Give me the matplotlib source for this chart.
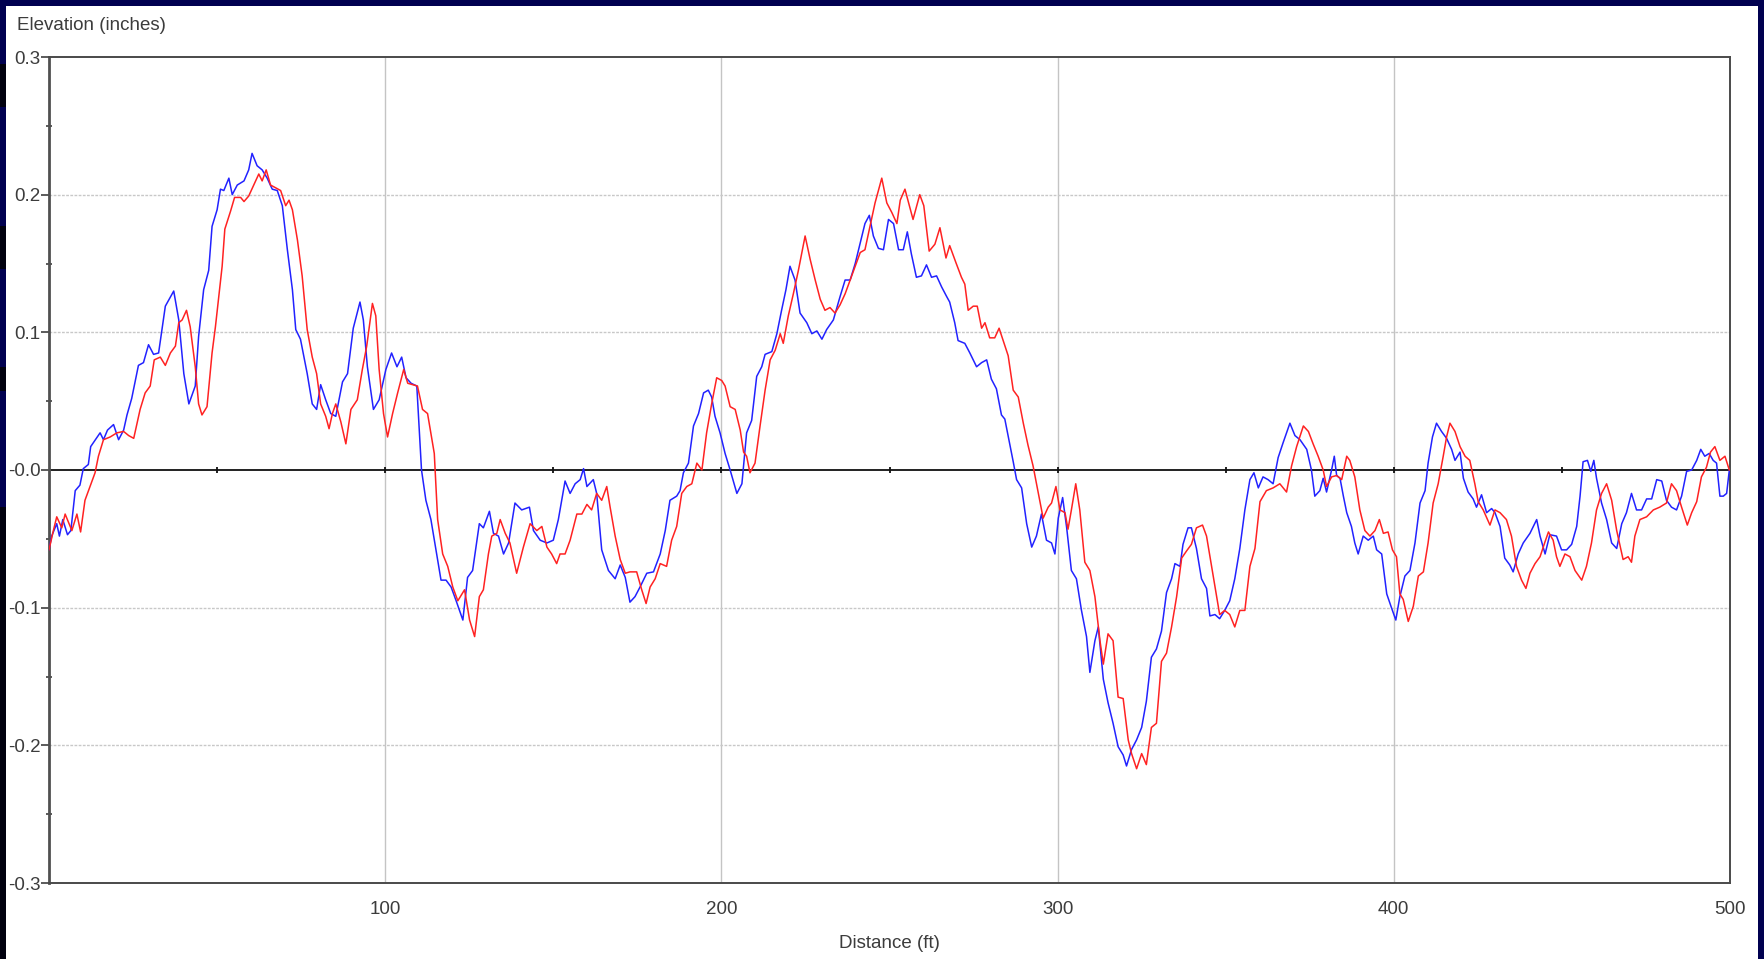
import numpy as np
import matplotlib
matplotlib.use("Agg")
import matplotlib.pyplot as plt
from matplotlib.patches import Rectangle

# Elevation profile, left (blue) and right (red) wheel path
blue_ft = [
    0, 0.8, 2.3, 3.1, 4.1, 5.5, 6.5, 7.8, 9.2, 10.2, 11.7, 12.4, 15.2, 16.2, 17.4, 19.2,
    20.7, 22.2, 23.2, 24.6, 26.6, 28.1, 29.6, 31.1, 32.6, 34.6, 37.1, 38.6, 40.1, 41.6,
    43.5, 44.5, 46.0, 47.5, 48.5, 50.0, 51.0, 52.0, 53.5, 54.5, 56.0, 58.0, 59.4, 60.4,
    61.9, 63.4, 64.9, 66.4, 67.9, 69.4, 70.9, 72.4, 73.4, 74.8, 76.8, 78.3, 79.6, 80.8,
    82.3, 83.8, 85.3, 87.3, 88.8, 90.5, 92.5, 93.5, 94.7, 96.5, 98.2, 100.2, 101.9, 103.5,
    104.9, 106.2, 107.7, 109.4, 110.8, 112.1, 113.6, 115.1, 116.6, 118.1, 119.6, 121.1,
    123.1, 124.5, 126.0, 128.0, 129.2, 131.0, 132.2, 133.7, 135.2, 136.7, 138.6, 140.6,
    142.9, 144.1, 146.1, 148.1, 150.0, 151.5, 153.5, 155.0, 156.5, 158.0, 159.0, 160.0,
    161.9, 162.9, 164.4, 166.4, 168.4, 169.9, 171.4, 172.8, 174.3, 175.8, 177.8, 179.8,
    181.8, 183.3, 184.7, 186.7, 187.7, 188.7, 190.2, 191.7, 193.2, 194.7, 196.1, 197.1,
    198.1, 199.6, 201.1, 202.6, 204.6, 206.1, 207.5, 209.0, 210.5, 212.0, 213.0, 215.0,
    216.5, 217.9, 219.2, 220.4, 221.9, 223.4, 225.4, 226.9, 228.4, 229.9, 231.3, 233.3,
    235.3, 236.8, 238.3, 239.8, 241.3, 242.7, 244.0, 245.2, 246.7, 248.2, 249.7, 251.2,
    252.7, 254.1, 255.3, 256.5, 258.0, 259.5, 261.0, 262.5, 264.0, 265.5, 267.0, 267.9,
    269.4, 270.4, 272.4, 273.9, 275.9, 277.4, 278.9, 280.3, 281.8, 283.3, 284.3, 285.6,
    286.8, 287.8, 289.3, 290.8, 292.3, 293.7, 295.2, 296.7, 298.2, 299.2, 300.2, 301.5,
    302.7, 304.1, 305.6, 307.1, 308.6, 309.6, 311.1, 312.1, 313.6, 315.0, 316.5, 318.0,
    319.5, 320.5, 322.0, 323.5, 325.0, 326.4, 327.9, 329.4, 330.9, 332.4, 333.9, 334.9,
    336.4, 337.3, 338.8, 339.8, 341.3, 342.8, 344.3, 345.3, 346.8, 348.2, 349.7, 351.2,
    352.7, 354.2, 355.7, 357.2, 358.4, 359.7, 361.1, 362.6, 364.1, 365.6, 367.1, 369.1,
    370.6, 372.1, 374.1, 375.5, 376.5, 378.0, 379.0, 380.0, 381.5, 382.3, 383.0, 384.0,
    385.0, 386.0, 387.4, 388.4, 389.4, 390.9, 392.4, 393.9, 394.9, 396.4, 397.9, 399.3,
    400.6, 401.8, 403.3, 404.8, 406.3, 407.8, 409.3, 410.2, 411.5, 412.7, 414.2, 415.7,
    417.2, 418.2, 419.7, 420.7, 422.1, 423.6, 424.6, 426.1, 427.6, 429.1, 430.1, 431.6,
    433.0, 434.5, 435.5, 437.0, 438.5, 440.5, 442.5, 443.5, 445.0, 446.4, 448.4, 449.9,
    451.4, 452.9, 454.4, 455.4, 456.3, 457.6, 458.6, 459.5, 460.3, 461.8, 463.3, 464.8,
    466.3, 467.8, 469.2, 470.7, 472.2, 473.7, 475.2, 476.7, 478.2, 479.7, 481.1, 482.6,
    484.1, 485.6, 487.1, 488.6, 490.1, 491.3, 492.5, 493.8, 495.0, 496.0, 497.0, 498.0,
    499.0, 499.8,
]
blue_in = [
    -0.058, -0.048, -0.039, -0.048, -0.036, -0.047, -0.044, -0.015, -0.011, 0.001, 0.004,
    0.017, 0.027, 0.022, 0.029, 0.033, 0.022, 0.029, 0.040, 0.052, 0.076, 0.078, 0.091,
    0.084, 0.085, 0.119, 0.130, 0.109, 0.070, 0.048, 0.061, 0.097, 0.131, 0.145, 0.177,
    0.189, 0.204, 0.203, 0.212, 0.200, 0.207, 0.210, 0.218, 0.230, 0.221, 0.218, 0.212,
    0.204, 0.203, 0.192, 0.160, 0.131, 0.102, 0.095, 0.070, 0.048, 0.044, 0.062, 0.051,
    0.041, 0.039, 0.064, 0.070, 0.103, 0.122, 0.109, 0.075, 0.044, 0.051, 0.073, 0.085,
    0.075, 0.082, 0.067, 0.063, 0.061, 0.000, -0.022, -0.036, -0.058, -0.080, -0.080,
    -0.085, -0.095, -0.109, -0.078, -0.073, -0.039, -0.042, -0.030, -0.046, -0.048,
    -0.061, -0.053, -0.024, -0.029, -0.027, -0.044, -0.051, -0.053, -0.051, -0.036,
    -0.008, -0.017, -0.010, -0.007, 0.001, -0.012, -0.007, -0.017, -0.058, -0.073,
    -0.079, -0.069, -0.078, -0.096, -0.092, -0.085, -0.075, -0.074, -0.061, -0.044,
    -0.022, -0.019, -0.015, -0.002, 0.005, 0.032, 0.041, 0.056, 0.058, 0.053, 0.039,
    0.027, 0.012, 0.000, -0.017, -0.010, 0.027, 0.036, 0.068, 0.075, 0.084, 0.086, 0.099,
    0.116, 0.131, 0.148, 0.138, 0.114, 0.107, 0.099, 0.101, 0.095, 0.102, 0.109, 0.126,
    0.138, 0.138, 0.150, 0.165, 0.179, 0.185, 0.170, 0.161, 0.160, 0.182, 0.179, 0.160,
    0.160, 0.173, 0.157, 0.140, 0.141, 0.149, 0.140, 0.141, 0.133, 0.126, 0.122, 0.107,
    0.094, 0.092, 0.085, 0.075, 0.078, 0.080, 0.066, 0.059, 0.040, 0.037, 0.021, 0.006,
    -0.007, -0.013, -0.039, -0.056, -0.048, -0.032, -0.051, -0.053, -0.061, -0.035,
    -0.020, -0.042, -0.073, -0.079, -0.102, -0.121, -0.147, -0.124, -0.114, -0.152,
    -0.169, -0.184, -0.201, -0.207, -0.215, -0.203, -0.196, -0.187, -0.168, -0.136,
    -0.130, -0.117, -0.089, -0.079, -0.068, -0.070, -0.054, -0.042, -0.042, -0.057,
    -0.079, -0.086, -0.106, -0.105, -0.108, -0.102, -0.095, -0.079, -0.057, -0.029,
    -0.007, -0.002, -0.013, -0.005, -0.007, -0.010, 0.009, 0.020, 0.034, 0.025, 0.022,
    0.015, 0.000, -0.019, -0.015, -0.006, -0.016, 0.000, 0.010, -0.004, -0.006, -0.019,
    -0.031, -0.041, -0.053, -0.061, -0.048, -0.051, -0.048, -0.058, -0.061, -0.090,
    -0.100, -0.109, -0.092, -0.077, -0.073, -0.053, -0.024, -0.015, 0.005, 0.024, 0.034,
    0.028, 0.023, 0.015, 0.007, 0.013, -0.006, -0.016, -0.021, -0.027, -0.018, -0.031,
    -0.028, -0.031, -0.041, -0.064, -0.069, -0.074, -0.061, -0.053, -0.046, -0.036,
    -0.048, -0.061, -0.047, -0.048, -0.058, -0.058, -0.054, -0.041, -0.019, 0.006, 0.007,
    -0.001, 0.007, -0.006, -0.024, -0.036, -0.053, -0.057, -0.039, -0.031, -0.017,
    -0.029, -0.029, -0.021, -0.021, -0.007, -0.008, -0.022, -0.027, -0.029, -0.019,
    -0.001, 0.000, 0.007, 0.015, 0.010, 0.012, 0.007, 0.005, -0.019, -0.019, -0.017,
    0.000,
]

red_ft = [
    0, 1.3, 2.3, 3.8, 4.8, 6.8, 8.3, 9.4, 10.7, 12.2, 13.7, 14.7, 16.2, 18.2, 20.2, 22.2,
    23.7, 25.2, 27.1, 28.6, 30.1, 31.3, 33.1, 34.6, 36.1, 37.6, 38.6, 39.6, 40.9, 42.0,
    43.5, 44.5, 45.5, 47.0, 48.5, 49.5, 50.5, 51.5, 52.3, 54.0, 55.2, 57.0, 58.0, 59.4,
    60.9, 62.4, 63.4, 64.6, 65.9, 67.4, 68.9, 70.4, 71.4, 72.4, 73.9, 75.3, 76.8, 78.3,
    79.6, 80.8, 82.3, 83.3, 84.3, 85.3, 86.8, 88.3, 89.8, 91.7, 93.2, 94.5, 96.2, 97.2,
    98.2, 99.5, 100.7, 102.2, 103.7, 105.5, 106.7, 108.2, 109.6, 111.1, 112.6, 114.6,
    115.6, 117.1, 118.6, 120.1, 121.6, 123.6, 125.1, 126.6, 128.0, 129.2, 130.7, 131.7,
    133.2, 134.2, 135.7, 137.1, 139.1, 141.1, 143.1, 145.1, 146.6, 148.1, 149.5, 151.0,
    152.0, 153.5, 155.0, 157.0, 158.5, 160.0, 161.4, 162.9, 164.4, 165.9, 166.9, 168.4,
    169.9, 171.4, 172.8, 174.8, 176.3, 177.6, 178.8, 180.3, 181.8, 183.7, 185.2, 186.7,
    188.2, 189.7, 191.2, 192.7, 194.2, 195.6, 197.1, 198.6, 200.1, 201.1, 202.6, 204.1,
    205.6, 206.6, 207.5, 208.5, 210.0, 211.5, 213.0, 214.5, 216.0, 217.5, 218.4, 219.9,
    221.4, 222.9, 224.9, 226.4, 227.9, 229.4, 230.8, 232.3, 233.8, 235.3, 236.8, 238.3,
    239.8, 241.3, 242.7, 244.2, 245.7, 247.7, 249.2, 250.7, 252.2, 253.2, 254.6, 255.8,
    257.0, 259.0, 260.2, 261.8, 263.5, 265.0, 266.8, 267.9, 269.7, 271.4, 272.4, 273.4,
    274.9, 276.1, 277.4, 278.4, 279.8, 281.3, 282.6, 283.8, 285.3, 286.8, 288.3, 289.8,
    291.2, 292.7, 294.2, 295.7, 297.2, 298.2, 299.5, 300.7, 302.2, 303.1, 304.1, 305.4,
    306.6, 308.1, 309.6, 311.1, 312.6, 313.6, 315.0, 316.5, 318.0, 319.5, 321.0, 322.0,
    323.5, 325.0, 326.4, 327.9, 329.4, 330.9, 332.4, 333.9, 335.4, 336.9, 338.3, 339.8,
    341.3, 343.1, 344.3, 345.8, 347.3, 348.2, 349.7, 351.2, 352.7, 354.2, 355.7, 357.2,
    358.7, 360.2, 362.1, 364.1, 366.1, 368.1, 369.6, 371.1, 373.1, 374.6, 376.0, 377.5,
    379.0, 380.0, 381.5, 383.0, 384.5, 386.0, 386.9, 388.4, 389.9, 391.4, 392.9, 394.4,
    395.7, 396.9, 398.3, 399.6, 400.8, 401.8, 402.8, 404.3, 405.8, 407.3, 408.8, 410.2,
    411.7, 413.2, 414.7, 415.7, 416.7, 418.2, 419.7, 421.2, 422.6, 424.1, 425.1, 426.6,
    428.6, 430.1, 431.6, 433.5, 435.0, 436.5, 438.0, 439.3, 440.5, 442.0, 443.5, 445.0,
    446.0, 447.4, 448.4, 449.4, 450.9, 452.4, 453.9, 455.9, 457.3, 458.8, 460.3, 461.8,
    463.3, 464.8, 466.3, 468.2, 469.7, 470.7, 471.7, 473.2, 475.2, 477.2, 479.1, 481.1,
    482.6, 484.1, 485.6, 487.3, 488.6, 490.1, 491.5, 493.0, 494.2, 495.5, 497.0, 498.5,
    499.8,
]
red_in = [
    -0.058, -0.044, -0.034, -0.042, -0.032, -0.044, -0.032, -0.045, -0.022, -0.012,
    -0.002, 0.010, 0.022, 0.024, 0.027, 0.028, 0.025, 0.023, 0.044, 0.056, 0.061, 0.080,
    0.082, 0.076, 0.085, 0.090, 0.107, 0.109, 0.116, 0.104, 0.075, 0.048, 0.040, 0.046,
    0.085, 0.104, 0.126, 0.148, 0.175, 0.188, 0.198, 0.198, 0.195, 0.199, 0.207, 0.215,
    0.210, 0.218, 0.207, 0.205, 0.203, 0.192, 0.196, 0.189, 0.167, 0.141, 0.102, 0.082,
    0.070, 0.048, 0.039, 0.030, 0.041, 0.048, 0.035, 0.019, 0.044, 0.051, 0.073, 0.090,
    0.121, 0.112, 0.073, 0.041, 0.024, 0.041, 0.056, 0.073, 0.063, 0.062, 0.061, 0.044,
    0.041, 0.012, -0.036, -0.061, -0.070, -0.085, -0.095, -0.087, -0.109, -0.121, -0.092,
    -0.087, -0.061, -0.048, -0.046, -0.036, -0.046, -0.053, -0.075, -0.056, -0.039,
    -0.044, -0.041, -0.056, -0.061, -0.068, -0.061, -0.061, -0.051, -0.032, -0.032,
    -0.025, -0.029, -0.017, -0.022, -0.012, -0.027, -0.048, -0.065, -0.075, -0.074,
    -0.074, -0.087, -0.097, -0.085, -0.079, -0.068, -0.070, -0.051, -0.041, -0.017,
    -0.012, -0.010, 0.005, 0.000, 0.027, 0.048, 0.067, 0.065, 0.061, 0.046, 0.044, 0.029,
    0.013, 0.010, -0.002, 0.005, 0.032, 0.058, 0.080, 0.087, 0.099, 0.092, 0.112, 0.128,
    0.145, 0.170, 0.153, 0.138, 0.124, 0.116, 0.118, 0.114, 0.120, 0.128, 0.138, 0.148,
    0.158, 0.160, 0.177, 0.194, 0.212, 0.194, 0.187, 0.179, 0.196, 0.204, 0.193, 0.182,
    0.200, 0.192, 0.159, 0.164, 0.176, 0.154, 0.163, 0.151, 0.140, 0.135, 0.116, 0.119,
    0.119, 0.103, 0.107, 0.096, 0.096, 0.103, 0.094, 0.083, 0.058, 0.053, 0.034, 0.018,
    0.003, -0.016, -0.035, -0.027, -0.024, -0.012, -0.029, -0.031, -0.043, -0.029,
    -0.010, -0.029, -0.067, -0.073, -0.092, -0.124, -0.141, -0.119, -0.124, -0.165,
    -0.166, -0.196, -0.206, -0.217, -0.206, -0.214, -0.187, -0.184, -0.139, -0.133,
    -0.114, -0.092, -0.064, -0.059, -0.054, -0.042, -0.040, -0.048, -0.070, -0.092,
    -0.105, -0.102, -0.105, -0.114, -0.102, -0.102, -0.070, -0.057, -0.023, -0.015,
    -0.013, -0.010, -0.016, 0.003, 0.017, 0.032, 0.028, 0.019, 0.010, 0.000, -0.012,
    -0.005, -0.004, -0.007, 0.010, 0.007, -0.005, -0.029, -0.044, -0.048, -0.044, -0.036,
    -0.046, -0.045, -0.058, -0.063, -0.090, -0.094, -0.110, -0.099, -0.077, -0.074,
    -0.053, -0.024, -0.010, 0.010, 0.024, 0.034, 0.028, 0.017, 0.010, 0.007, -0.010,
    -0.023, -0.029, -0.040, -0.029, -0.031, -0.036, -0.048, -0.070, -0.080, -0.086,
    -0.075, -0.068, -0.063, -0.052, -0.045, -0.051, -0.063, -0.070, -0.061, -0.063,
    -0.073, -0.080, -0.070, -0.053, -0.029, -0.017, -0.010, -0.022, -0.044, -0.065,
    -0.063, -0.067, -0.048, -0.036, -0.034, -0.029, -0.027, -0.024, -0.010, -0.015,
    -0.027, -0.040, -0.031, -0.023, -0.005, 0.002, 0.013, 0.017, 0.007, 0.010, 0.000,
]

y_ticks = [-0.3, -0.2, -0.1, 0.0, 0.1, 0.2, 0.3]
y_tick_labels = ["-0.3", "-0.2", "-0.1", "-0.0", "0.1", "0.2", "0.3"]
x_ticks = [100, 200, 300, 400, 500]

W, H = 1764, 959
plt.rcParams["font.family"] = ["Liberation Sans", "DejaVu Sans"]
text_color = "#3c3c3c"

fig = plt.figure(figsize=(W / 100, H / 100), dpi=100)
fig.patch.set_facecolor("#000050")

# white window panel inside the navy frame
fig.patches.append(Rectangle((6 / W, 0), (1758 - 6) / W, (H - 6) / H,
                             transform=fig.transFigure, facecolor="white",
                             edgecolor="none", zorder=-10))
# darker bands on the left frame edge
for top, bot in [(64, 107), (226, 269), (367, 391), (507, 959)]:
    fig.patches.append(Rectangle((0, 1 - bot / H), 6 / W, (bot - top) / H,
                                 transform=fig.transFigure, facecolor="#00000e",
                                 edgecolor="none", zorder=-10))

ax = fig.add_axes([49 / W, 1 - 883 / H, (1730 - 49) / W, (883 - 57) / H])
ax.set_facecolor("white")
ax.set_xlim(0, 500)
ax.set_ylim(-0.3, 0.3)

# grid
for gx in [100, 200, 300, 400]:
    ax.axvline(gx, color="#c4c4c4", lw=1.0, zorder=1)
for gy in [-0.2, -0.1, 0.1, 0.2]:
    ax.axhline(gy, color="#c8c8c8", lw=1.0, ls=(0, (2, 1)), zorder=1)
ax.axhline(0, color="#101010", lw=1.3, zorder=2)
ax.plot(np.arange(50, 500, 50), np.zeros(9), ls="none", marker="|",
        ms=5, mew=1.3, color="#101010", zorder=2)

ax.plot(blue_ft, blue_in, color="#2222ff", lw=1.1, zorder=3)
ax.plot(red_ft, red_in, color="#ff2222", lw=1.1, zorder=4)

for side in ["top", "right", "bottom"]:
    ax.spines[side].set_color("#4a4a4a")
    ax.spines[side].set_linewidth(1.4)
ax.spines["left"].set_color("#505050")
ax.spines["left"].set_linewidth(2.0)

ax.set_yticks(y_ticks)
ax.set_yticklabels(y_tick_labels)
ax.set_yticks(np.arange(-0.25, 0.3, 0.1), minor=True)
ax.tick_params(axis="y", which="major", direction="out", length=5.5, width=1.2,
               color="#404040", pad=0.5, labelsize=13.5, labelcolor=text_color)
ax.tick_params(axis="y", which="minor", direction="inout", length=5, width=1.2,
               color="#404040")
ax.set_xticks(x_ticks)
ax.set_xticklabels([str(v) for v in x_ticks])
ax.tick_params(axis="x", length=0, pad=13, labelsize=13.5, labelcolor=text_color)

fig.text(17 / W, 1 - 25 / H, "Elevation (inches)", ha="left", va="center",
         fontsize=13.5, color=text_color)
fig.text((49 + 1730) / 2 / W, 1 - 943 / H, "Distance (ft)", ha="center",
         va="center", fontsize=13.5, color=text_color)

fig.savefig("out.png", dpi=100, facecolor=fig.get_facecolor())
